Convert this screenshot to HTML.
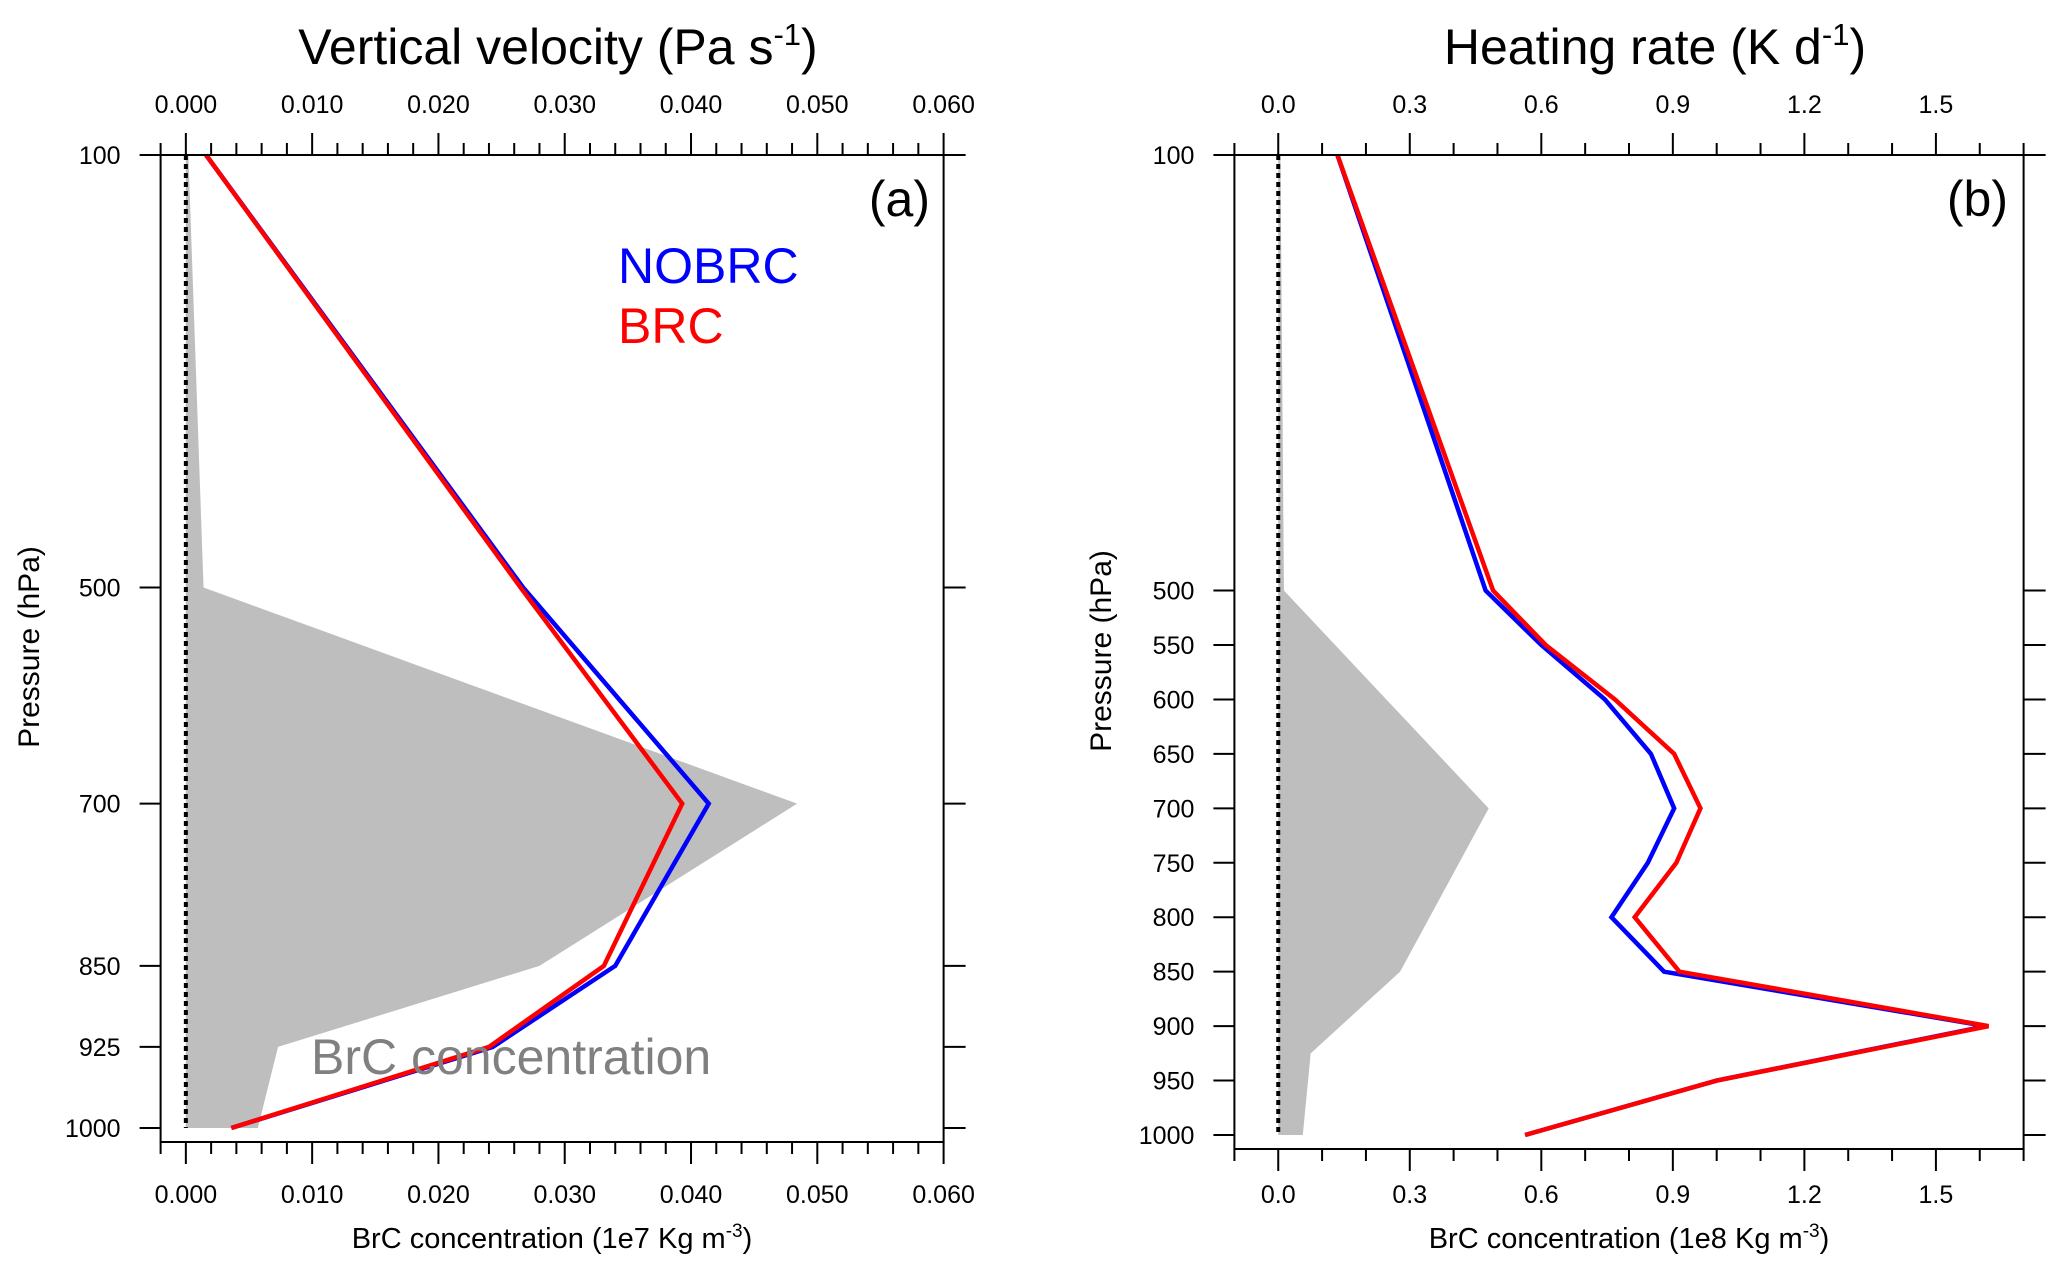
<!DOCTYPE html>
<html><head><meta charset="utf-8"><style>
html,body{margin:0;padding:0;background:#fff}
svg{display:block}
text{font-family:"Liberation Sans",sans-serif}
</style></head><body>
<svg id="chart" width="2067" height="1274" viewBox="0 0 2067 1274" xmlns="http://www.w3.org/2000/svg"></svg>
<script>
const levelsA = [100, 500, 700, 850, 925, 1000];
const nobrcA = [0.0016, 0.0267, 0.0414, 0.0340, 0.0243, 0.0036];
const brcA = [0.0016, 0.0265, 0.0393, 0.0331, 0.0240, 0.0036];
const shadeA = [0.0002, 0.0014, 0.0484, 0.0280, 0.0073, 0.0057];
const xTicksA = ["0.000","0.010","0.020","0.030","0.040","0.050","0.060"];
const yTicksA = [100, 500, 700, 850, 925, 1000];

const levelsB = [100, 500, 550, 600, 650, 700, 750, 800, 850, 900, 950, 1000];
const nobrcB = [0.135, 0.473, 0.60, 0.745, 0.85, 0.903, 0.843, 0.76, 0.88, 1.615, 1.0, 0.563];
const brcB = [0.135, 0.49, 0.61, 0.768, 0.903, 0.963, 0.908, 0.813, 0.915, 1.62, 1.0, 0.563];
const shadeLevelsB = [100, 500, 700, 850, 925, 1000];
const shadeB = [0.005, 0.013, 0.48, 0.278, 0.074, 0.056];
const xTicksB = ["0.0","0.3","0.6","0.9","1.2","1.5"];
const yTicksB = [100, 500, 550, 600, 650, 700, 750, 800, 850, 900, 950, 1000];

const svg = document.getElementById('chart');
const NS = 'http://www.w3.org/2000/svg';
function mk(tag, attrs, parent){const e=document.createElementNS(NS,tag);for(const k in attrs)e.setAttribute(k,attrs[k]);(parent||svg).appendChild(e);return e;}

function panel(o){
  const g = mk('g',{});
  
  
  const xs = v => o.x0 + (v - o.xmin) / (o.xmax - o.xmin) * (o.x1 - o.x0);
  const ys = p => o.yTop + (p - 100) / 900 * (o.y1000 - o.yTop);
  let pts = [];
  o.shLev.forEach((p,i)=>pts.push(xs(o.sh[i])+','+ys(p)));
  pts.push(xs(0)+','+ys(1000)); pts.push(xs(0)+','+ys(100));
  const sh = mk('polygon',{points:pts.join(' '),fill:'#bebebe'},g);
  
  
  const z = mk('line',{x1:xs(0),x2:xs(0),y1:ys(100),y2:ys(1000),stroke:'#000','stroke-width':4,'stroke-dasharray':'5,4'},g);
  
  
  [[o.nob,'#0000ff','nobrc-line'],[o.brc,'#ff0000','brc-line']].forEach(s=>{
    const d = o.lev.map((p,i)=>(i?'L':'M')+xs(s[0][i])+','+ys(p)).join(' ');
    const l = mk('path',{d:d,fill:'none',stroke:s[1],'stroke-width':4.5,'stroke-linejoin':'miter'},g);
    
    
  });
  const fr = mk('rect',{x:o.x0,y:o.yTop,width:o.x1-o.x0,height:o.yBot-o.yTop,fill:'none',stroke:'#000','stroke-width':2},g);
  
  
  for(let v=o.xmin; v<=o.xmax+1e-9; v+=o.minor){
    const isMaj = Math.abs(Math.round((v)/o.major)*o.major - v) < 1e-9;
    const L = isMaj?22:12, x=xs(v);
    mk('line',{x1:x,x2:x,y1:o.yTop,y2:o.yTop-L,stroke:'#000','stroke-width':2},g);
    mk('line',{x1:x,x2:x,y1:o.yBot,y2:o.yBot+L,stroke:'#000','stroke-width':2},g);
  }
  o.xt.forEach((t,i)=>{
    const x = xs(i*o.major);
    const a = mk('text',{x:x,y:113,'font-size':25,'text-anchor':'middle'},g); a.textContent=t;
    
    
    const b = mk('text',{x:x,y:1203,'font-size':25,'text-anchor':'middle'},g); b.textContent=t;
    
    
  });
  o.yt.forEach(p=>{
    const y=ys(p);
    mk('line',{x1:o.x0-21,x2:o.x0,y1:y,y2:y,stroke:'#000','stroke-width':2},g);
    mk('line',{x1:o.x1,x2:o.x1+22,y1:y,y2:y,stroke:'#000','stroke-width':2},g);
    const t = mk('text',{x:o.x0-40,y:y+9,'font-size':25,'text-anchor':'end'},g); t.textContent=p;
    
    
  });
  return {xs, ys, g};
}

const A = panel({id:'panel-a',x0:160.6,x1:943.6,xmin:-0.002,xmax:0.060,yTop:155,y1000:1128,yBot:1142,
  lev:levelsA,nob:nobrcA,brc:brcA,shLev:levelsA,sh:shadeA,xt:xTicksA,yt:yTicksA,major:0.01,minor:0.002});
const B = panel({id:'panel-b',x0:1234.4,x1:2023.6,xmin:-0.1,xmax:1.7,yTop:155,y1000:1135,yBot:1149,
  lev:levelsB,nob:nobrcB,brc:brcB,shLev:shadeLevelsB,sh:shadeB,xt:xTicksB,yt:yTicksB,major:0.3,minor:0.1});
</script>
<svg style="position:absolute;left:0;top:0" width="2067" height="1274">
  <text x="558" y="64" font-size="50" text-anchor="middle" font-family="Liberation Sans, sans-serif">Vertical velocity (Pa s<tspan dy="-19" font-size="31">-1</tspan><tspan dy="19">)</tspan></text>
  <text x="1655" y="64" font-size="50" text-anchor="middle" font-family="Liberation Sans, sans-serif">Heating rate (K d<tspan dy="-19" font-size="31">-1</tspan><tspan dy="19">)</tspan></text>
  <text x="552" y="1248" font-size="29" text-anchor="middle" font-family="Liberation Sans, sans-serif">BrC concentration (1e7 Kg m<tspan dy="-11" font-size="19">-3</tspan><tspan dy="11">)</tspan></text>
  <text x="1629" y="1248" font-size="29" text-anchor="middle" font-family="Liberation Sans, sans-serif">BrC concentration (1e8 Kg m<tspan dy="-11" font-size="19">-3</tspan><tspan dy="11">)</tspan></text>
  <text transform="translate(39,647) rotate(-90)" font-size="30" text-anchor="middle" font-family="Liberation Sans, sans-serif">Pressure (hPa)</text>
  <text transform="translate(1111,651) rotate(-90)" font-size="30" text-anchor="middle" font-family="Liberation Sans, sans-serif">Pressure (hPa)</text>
  <text x="930" y="216" font-size="50" text-anchor="end" font-family="Liberation Sans, sans-serif">(a)</text>
  <text x="2008" y="216" font-size="50" text-anchor="end" font-family="Liberation Sans, sans-serif">(b)</text>
  <text x="618" y="283" font-size="50" fill="#0000ff" font-family="Liberation Sans, sans-serif">NOBRC</text>
  <text x="618" y="343" font-size="50" fill="#ff0000" font-family="Liberation Sans, sans-serif">BRC</text>
  <text x="311" y="1074" font-size="50" fill="#808080" font-family="Liberation Sans, sans-serif">BrC concentration</text>
</svg>
</body></html>
